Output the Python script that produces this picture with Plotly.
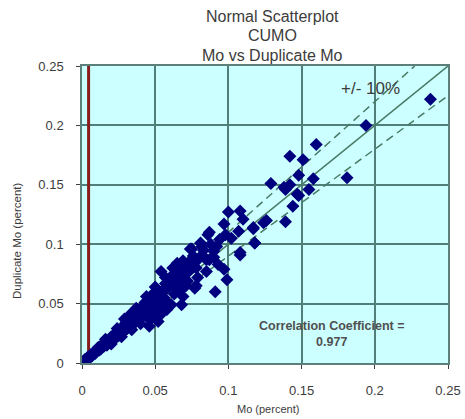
import plotly.graph_objects as go

# Mo assays (percent) and their duplicate assays (percent)
mo = [
    0.001, 0.002, 0.002, 0.003, 0.004, 0.004, 0.005, 0.006, 0.007, 0.008,
    0.009, 0.010, 0.011, 0.012, 0.013, 0.014, 0.015, 0.016, 0.017, 0.018,
    0.019, 0.020, 0.021, 0.022, 0.023, 0.024, 0.025, 0.026, 0.027, 0.028,
    0.029, 0.030, 0.031, 0.032, 0.033, 0.034, 0.035, 0.036, 0.037, 0.038,
    0.039, 0.040, 0.041, 0.042, 0.043, 0.044, 0.045, 0.046, 0.047, 0.048,
    0.049, 0.050, 0.052, 0.053, 0.054, 0.055, 0.056, 0.058,
    0.046, 0.052, 0.054, 0.037, 0.033, 0.029, 0.048, 0.042,
    0.054, 0.060, 0.065, 0.065, 0.072, 0.076, 0.078, 0.079, 0.085, 0.077,
    0.078, 0.091, 0.099, 0.097, 0.068, 0.069, 0.049, 0.044, 0.053, 0.061,
    0.058, 0.062, 0.066, 0.070, 0.072, 0.068, 0.074, 0.063, 0.057, 0.060,
    0.065, 0.071,
    0.016, 0.020, 0.024, 0.027, 0.031, 0.034, 0.038, 0.040, 0.043, 0.045,
    0.047, 0.050, 0.052, 0.055, 0.057, 0.059, 0.061, 0.063, 0.066, 0.068,
    0.057, 0.050, 0.062, 0.070, 0.073, 0.080, 0.083, 0.076, 0.088, 0.090,
    0.075, 0.082, 0.087, 0.086, 0.081, 0.108, 0.074, 0.082, 0.092, 0.085,
    0.090, 0.069, 0.093, 0.087, 0.098, 0.094, 0.102, 0.107, 0.118, 0.108,
    0.100, 0.108, 0.110, 0.097, 0.117, 0.126, 0.139,
    0.117, 0.118, 0.124, 0.144, 0.155, 0.148, 0.138, 0.142, 0.139, 0.129,
    0.147, 0.158, 0.148, 0.181, 0.151, 0.142, 0.160, 0.194, 0.238,
]
dup_mo = [
    0.001, 0.003, 0.001, 0.002, 0.005, 0.003, 0.004, 0.007, 0.006, 0.009,
    0.008, 0.010, 0.013, 0.011, 0.012, 0.016, 0.014, 0.017, 0.015, 0.019,
    0.018, 0.022, 0.020, 0.024, 0.021, 0.026, 0.023, 0.028, 0.025, 0.031,
    0.027, 0.034, 0.029, 0.036, 0.031, 0.039, 0.033, 0.041, 0.035, 0.043,
    0.037, 0.045, 0.039, 0.048, 0.041, 0.046, 0.050, 0.044, 0.053, 0.047,
    0.051, 0.056, 0.048, 0.058, 0.052, 0.061, 0.055, 0.063,
    0.031, 0.035, 0.041, 0.046, 0.041, 0.037, 0.038, 0.042,
    0.077, 0.069, 0.068, 0.084, 0.083, 0.082, 0.080, 0.072, 0.077, 0.063,
    0.065, 0.060, 0.070, 0.079, 0.049, 0.056, 0.059, 0.056, 0.055, 0.049,
    0.045, 0.066, 0.072, 0.074, 0.069, 0.078, 0.086, 0.073, 0.063, 0.070,
    0.062, 0.065,
    0.020, 0.016, 0.029, 0.022, 0.037, 0.028, 0.045, 0.033, 0.051, 0.038,
    0.056, 0.043, 0.060, 0.047, 0.067, 0.050, 0.073, 0.058, 0.076, 0.062,
    0.072, 0.064, 0.080, 0.081, 0.077, 0.088, 0.095, 0.090, 0.100, 0.094,
    0.096, 0.091, 0.087, 0.108, 0.101, 0.091, 0.096, 0.098, 0.098, 0.087,
    0.089, 0.086, 0.083, 0.110, 0.108, 0.104, 0.105, 0.111, 0.101, 0.093,
    0.127, 0.128, 0.121, 0.117, 0.114, 0.120, 0.119,
    0.113, 0.101, 0.118, 0.132, 0.146, 0.141, 0.148, 0.150, 0.146, 0.151,
    0.142, 0.155, 0.158, 0.156, 0.171, 0.174, 0.184, 0.200, 0.222,
]

# Reference lines: 1:1 and +/- 10 %
axis_max = 0.25
tolerance = 0.10
detection_limit = 0.0045

grid_col = "#4f7f78"
line_col = "#4a7a66"
text_col = "#3c3c3c"
font_family = "Liberation Sans, Arial, sans-serif"

fig = go.Figure()

ref_x = [0, axis_max]
fig.add_trace(go.Scatter(
    x=ref_x, y=[v for v in ref_x], mode="lines",
    line=dict(color=line_col, width=1.5), hoverinfo="skip", showlegend=False))
fig.add_trace(go.Scatter(
    x=[0, axis_max / (1 + tolerance)], y=[0, axis_max], mode="lines",
    line=dict(color=line_col, width=1.5, dash="8px,5px"),
    hoverinfo="skip", showlegend=False))
fig.add_trace(go.Scatter(
    x=ref_x, y=[v * (1 - tolerance) for v in ref_x], mode="lines",
    line=dict(color=line_col, width=1.5, dash="8px,5px"),
    hoverinfo="skip", showlegend=False))

# vertical marker at the detection limit
fig.add_trace(go.Scatter(
    x=[detection_limit, detection_limit], y=[0, axis_max], mode="lines",
    line=dict(color="#8B1C1C", width=3), hoverinfo="skip", showlegend=False))

fig.add_trace(go.Scatter(
    x=mo, y=dup_mo, mode="markers",
    marker=dict(symbol="diamond", size=10, color="#00007F",
                line=dict(width=0)),
    showlegend=False))

axis_common = dict(
    range=[0, axis_max], dtick=0.05, showgrid=True, gridcolor=grid_col,
    gridwidth=1.6, zeroline=False, showline=True, linecolor="#5d7f7a",
    linewidth=1.5, mirror=True, ticks="outside", ticklen=4, automargin=False,
    tickcolor="#404040", tickfont=dict(family=font_family, size=13, color=text_col),
)

fig.update_layout(
    width=465, height=419,
    margin=dict(l=82, r=17, t=66, b=56),
    paper_bgcolor="white", plot_bgcolor="#CCFFFF",
    font=dict(family=font_family, color=text_col),
    xaxis=dict(**axis_common, ticklabelstandoff=11),
    yaxis=dict(**axis_common, ticklabelstandoff=10),
)

# plot-area frame in pixels, used to place the free-standing text
plot_w = 465 - 82 - 17
plot_h = 419 - 66 - 56


def px_x(px):
    return (px - 82) / plot_w


def px_y(py):
    return (419 - 56 - py) / plot_h


title_lines = ["Normal Scatterplot", "CUMO", "Mo vs Duplicate Mo"]
for i, t in enumerate(title_lines):
    fig.add_annotation(
        text=t, xref="paper", yref="paper", x=px_x(272), y=px_y(16 + 19.5 * i),
        showarrow=False, xanchor="center", yanchor="middle",
        font=dict(family=font_family, size=16, color=text_col))

fig.add_annotation(
    text="Duplicate Mo (percent)", xref="paper", yref="paper",
    x=px_x(17), y=px_y(241), textangle=-90, showarrow=False,
    xanchor="center", yanchor="middle",
    font=dict(family=font_family, size=11.5, color=text_col))
fig.add_annotation(
    text="Mo (percent)", xref="paper", yref="paper",
    x=px_x(268), y=px_y(409), showarrow=False,
    xanchor="center", yanchor="middle",
    font=dict(family=font_family, size=11, color=text_col))

fig.add_annotation(
    text="+/- 10%", x=0.1974, y=0.231, xref="x", yref="y", showarrow=False,
    font=dict(family=font_family, size=17, color=text_col))
fig.add_annotation(
    text="<b>Correlation Coefficient =</b><br><b>0.977</b>", x=0.1708, y=0.024,
    xref="x", yref="y", showarrow=False, align="center",
    font=dict(family=font_family, size=12.5, color="#505050"))

fig.write_html("out.html")
